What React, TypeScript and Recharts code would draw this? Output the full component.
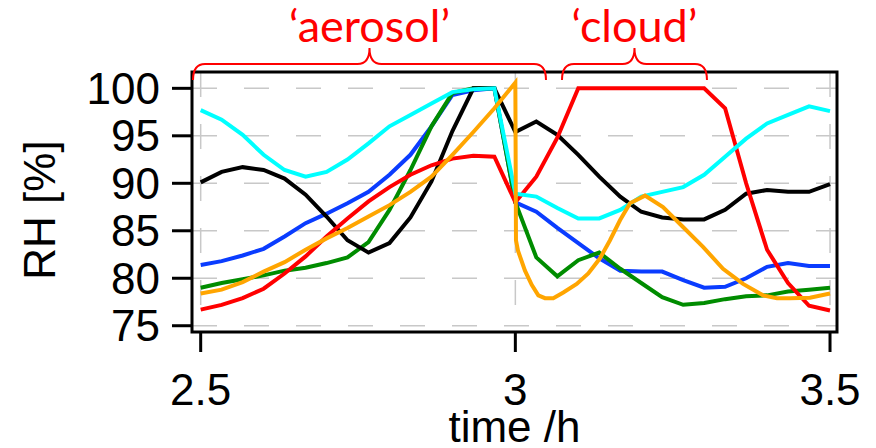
import { LineChart, Line, XAxis, YAxis, CartesianGrid, ReferenceArea, Label } from 'recharts';

// time axis (h), 2-minute steps
const TIME_H = [
  2.5, 2.5333, 2.5667, 2.6, 2.6333, 2.6667, 2.7, 2.7333, 2.7667, 2.8, 2.8333,
  2.8667, 2.9, 2.9333, 2.9667, 3.0, 3.0333, 3.0667, 3.1, 3.1333, 3.1667,
  3.2, 3.2333, 3.2667, 3.3, 3.3333, 3.3667, 3.4, 3.4333, 3.4667, 3.5,
];

// relative humidity [%] per run
const RH_RED = [
  76.7, 77.2, 77.9, 78.9, 80.5, 82.3, 84.4, 86.3, 88.1, 89.6, 90.9,
  91.9, 92.6, 92.9, 92.8, 88.0, 90.7, 94.8, 100, 100, 100,
  100, 100, 100, 100, 97.9, 90.0, 83.0, 79.5, 77.1, 76.6,
];
const RH_BLACK = [
  90.1, 91.2, 91.7, 91.4, 90.5, 88.8, 86.5, 84.0, 82.7, 83.7, 86.4,
  90.2, 95.5, 100, 100, 95.4, 96.5, 95.1, 93.0, 90.7, 88.6,
  87.0, 86.4, 86.2, 86.2, 87.2, 88.9, 89.3, 89.1, 89.1, 89.9,
];
const RH_CYAN = [
  97.7, 96.7, 95.1, 93.0, 91.4, 90.7, 91.2, 92.5, 94.2, 96.0, 97.2,
  98.4, 99.6, 99.9, 100, 88.9, 88.6, 87.4, 86.3, 86.3, 87.2,
  88.6, 89.1, 89.6, 90.9, 92.8, 94.7, 96.3, 97.2, 98.1, 97.6,
];
const RH_BLUE = [
  81.4, 81.8, 82.4, 83.1, 84.4, 85.8, 86.8, 87.9, 89.1, 90.9, 93.0,
  96.0, 99.3, 99.8, 100, 88.0, 87.0, 85.3, 83.7, 82.1, 80.8,
  80.7, 80.7, 79.8, 79.0, 79.1, 80.0, 81.2, 81.6, 81.3, 81.3,
];
const RH_GREEN = [
  79.0, 79.5, 79.9, 80.3, 80.8, 81.1, 81.6, 82.2, 83.8, 87.2, 91.4,
  96.0, 99.5, 100, 100, 88.0, 82.2, 80.2, 81.9, 82.7, 81.0,
  79.5, 78.0, 77.2, 77.4, 77.8, 78.1, 78.2, 78.6, 78.8, 79.0,
];

// orange run is logged on its own time stamps
const ORANGE_TIME_H = [
  2.5, 2.5333, 2.5667, 2.6, 2.6333, 2.6667, 2.7, 2.7333, 2.7667, 2.8, 2.8333,
  2.8667, 2.9, 2.9333, 2.9667, 3.0, 3.001, 3.0042, 3.0153, 3.026, 3.0365,
  3.0471, 3.0603, 3.0762, 3.0975, 3.1159, 3.1345, 3.1504, 3.1663, 3.1822, 3.206,
  3.2346, 3.2664, 3.2982, 3.33, 3.3618, 3.3935, 3.4158, 3.4365, 3.4682, 3.5,
];
const RH_ORANGE = [
  78.4, 78.8, 79.6, 80.7, 81.7, 83.0, 84.2, 85.3, 86.5, 87.7, 89.1,
  90.7, 93.0, 95.4, 97.9, 100.6, 84.0, 82.9, 80.8, 79.3, 78.2,
  77.9, 77.9, 78.5, 79.4, 80.5, 82.1, 84.0, 86.1, 87.9, 88.7,
  87.5, 85.4, 83.3, 81.0, 79.4, 78.2, 77.9, 77.9, 77.95, 78.4,
];

const X_TICKS = [2.5, 3, 3.5];
const Y_TICKS = [75, 80, 85, 90, 95, 100];

// annotated periods (h)
const PERIODS = [
  { label: '\u2018aerosol\u2019', from: 2.4878, to: 3.0487 },
  { label: '\u2018cloud\u2019', from: 3.0741, to: 3.3045 },
];

const W = 876;
const H = 448;
const MARGIN = { top: 72, right: 39, bottom: 0, left: 0 };
const Y_AXIS_W = 192;
const X_AXIS_H = 116;
const X_DOMAIN: [number, number] = [2.4862, 3.5111];
const Y_DOMAIN: [number, number] = [74.34, 101.72];

const AXIS_FONT = "'Liberation Sans', Arial, sans-serif";
const NOTE_FONT = "Lato, 'Liberation Sans', sans-serif";

const rows = TIME_H.map((t, i) => ({
  t,
  red: RH_RED[i],
  black: RH_BLACK[i],
  cyan: RH_CYAN[i],
  blue: RH_BLUE[i],
  green: RH_GREEN[i],
}));
const orangeRows = ORANGE_TIME_H.map((t, i) => ({ t, rh: RH_ORANGE[i] }));

const plotLeft = MARGIN.left + Y_AXIS_W;
const plotW = W - plotLeft - MARGIN.right;
const toPx = (t: number) => plotLeft + ((t - X_DOMAIN[0]) / (X_DOMAIN[1] - X_DOMAIN[0])) * plotW;

// curly brace above the plot
const bracePath = (x1: number, x2: number) => {
  const lineY = 64, tipY = 80, peakY = 48, r = 12;
  const mid = (x1 + x2) / 2;
  return [
    `M ${x1} ${tipY}`,
    `Q ${x1} ${lineY} ${x1 + r} ${lineY}`,
    `L ${mid - r} ${lineY}`,
    `Q ${mid} ${lineY} ${mid} ${peakY}`,
    `Q ${mid} ${lineY} ${mid + r} ${lineY}`,
    `L ${x2 - r} ${lineY}`,
    `Q ${x2} ${lineY} ${x2} ${tipY}`,
  ].join(' ');
};

const YTitle = (props: any) => {
  const vb = props.viewBox || { x: 0, y: MARGIN.top, width: Y_AXIS_W, height: 260 };
  const x = vb.x + 55;
  const y = vb.y + vb.height / 2 + 8;
  return (
    <text x={x} y={y} transform={`rotate(-90, ${x}, ${y})`} textAnchor="middle"
      fontSize={44} fontFamily={AXIS_FONT} fill="#000">
      RH [%]
    </text>
  );
};

export default function App() {
  const line = { type: 'linear' as const, dot: false, strokeWidth: 4, isAnimationActive: false };
  return (
    <div style={{ position: 'absolute', left: 0, top: 0, width: W, height: H, background: '#fff' }}>
      <LineChart width={W} height={H} data={rows} margin={MARGIN}>
        <CartesianGrid stroke="#c8c8c8" strokeWidth={1.5} strokeDasharray="25 27" />
        <XAxis
          type="number" dataKey="t" domain={X_DOMAIN} ticks={X_TICKS} allowDataOverflow interval={0}
          height={X_AXIS_H} axisLine={false} tickSize={20} tickMargin={22}
          tickLine={{ stroke: '#000', strokeWidth: 3 }}
          tick={{ fill: '#000', fontSize: 44, fontFamily: AXIS_FONT }}
        >
          <Label value="time /h" position="insideBottom" offset={6} fontSize={44} fill="#000" fontFamily={AXIS_FONT} />
        </XAxis>
        <YAxis
          type="number" domain={Y_DOMAIN} ticks={Y_TICKS} allowDataOverflow interval={0}
          width={Y_AXIS_W} axisLine={false} tickSize={20} tickMargin={12}
          tickLine={{ stroke: '#000', strokeWidth: 3 }}
          tick={{ fill: '#000', fontSize: 44, fontFamily: AXIS_FONT }}
        >
          <Label content={YTitle} />
        </YAxis>
        <ReferenceArea x1={X_DOMAIN[0]} x2={X_DOMAIN[1]} y1={Y_DOMAIN[0]} y2={Y_DOMAIN[1]}
          fill="none" stroke="#000" strokeWidth={3} />
        <Line {...line} dataKey="blue" stroke="#0a3cff" />
        <Line {...line} dataKey="green" stroke="#008c00" />
        <Line {...line} dataKey="black" stroke="#000000" />
        <Line {...line} dataKey="red" stroke="#ff0000" />
        <Line {...line} dataKey="cyan" stroke="#00ffff" />
        <Line {...line} data={orangeRows} dataKey="rh" stroke="#ffa500" />
      </LineChart>
      <svg width={W} height={H} style={{ position: 'absolute', left: 0, top: 0, pointerEvents: 'none' }}>
        {PERIODS.map((p) => {
          const x1 = toPx(p.from);
          const x2 = toPx(p.to);
          return (
            <g key={p.label}>
              <path d={bracePath(x1, x2)} fill="none" stroke="#ff0000" strokeWidth={2} />
              <text x={(x1 + x2) / 2} y={42} textAnchor="middle" fontSize={45} fontFamily={NOTE_FONT} fill="#ff0000">
                {p.label}
              </text>
            </g>
          );
        })}
      </svg>
    </div>
  );
}
